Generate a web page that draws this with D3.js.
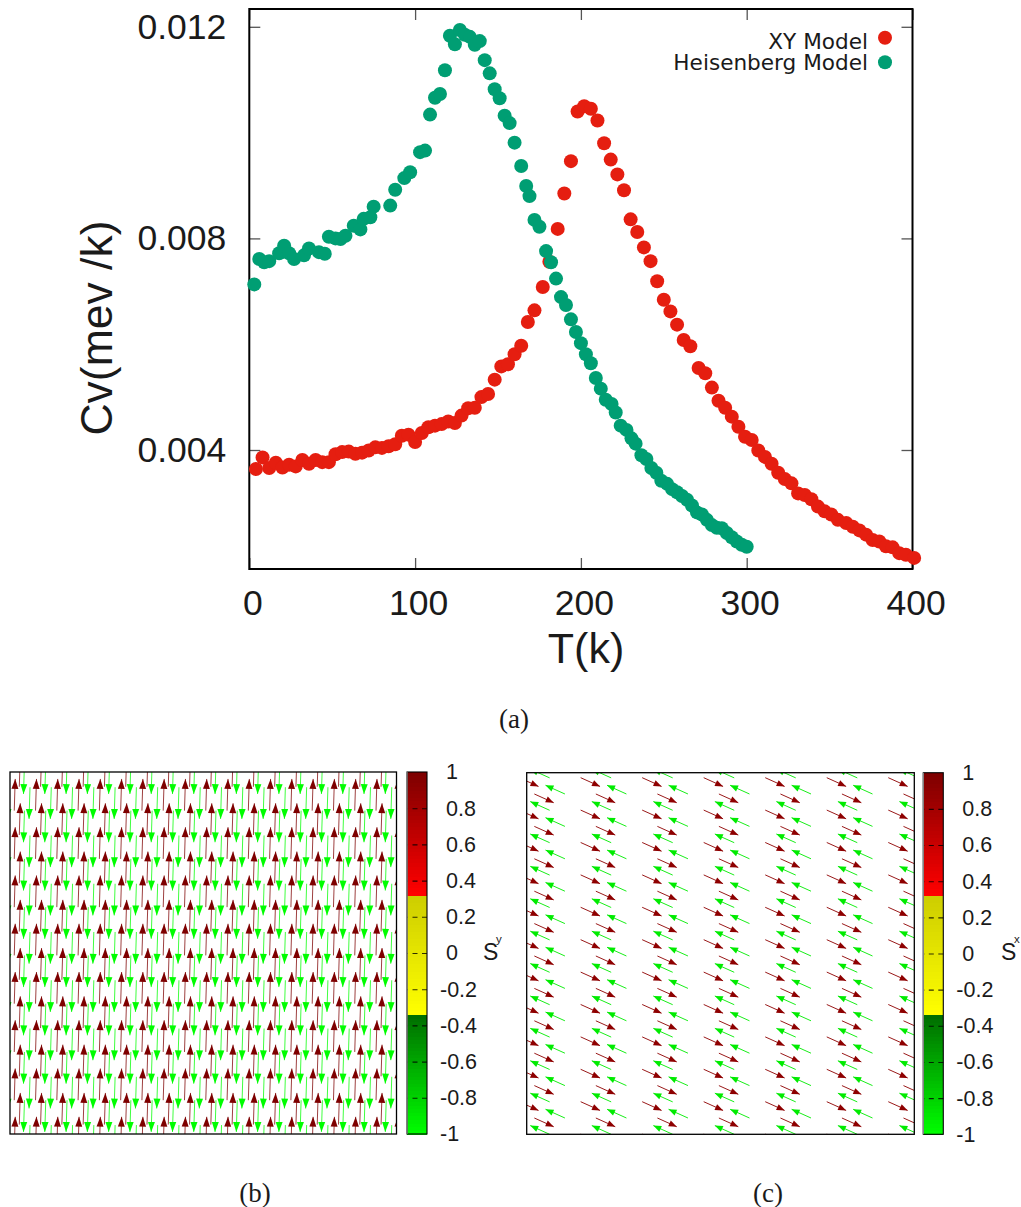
<!DOCTYPE html>
<html>
<head>
<meta charset="utf-8">
<script src="https://d3js.org/d3.v7.min.js"></script>
<style>
  body { margin: 0; background: #fff; }
  svg { display: block; }
  text { font-family: "Liberation Sans", Arial, sans-serif; fill: #1a1a1a; }
</style>
</head>
<body>
<svg id="fig" width="1021" height="1207"></svg>
<script>
// specific heat curves
const xyTemp = [
  4, 8, 12, 16, 20, 24, 28, 32, 36, 40,
  44, 48, 52, 56, 60, 64, 68, 72, 76, 80,
  84, 88, 92, 96, 100, 104, 108, 112, 116, 120,
  124, 128, 132, 136, 140, 144, 148, 152, 156, 160,
  164, 168, 172, 177, 181, 186, 190, 194, 198, 202,
  206, 210, 214, 218, 222, 226, 230, 234, 238, 242,
  246, 250, 254, 258, 262, 266, 271, 275, 279, 283,
  287, 291, 295, 299, 303, 307, 311, 315, 319, 323,
  327, 331, 335, 339, 343, 347, 351, 355, 360, 364,
  368, 372, 376, 380, 384, 388, 392, 396, 401]
const xyCv = [
  .00364, .00386, .00366, .00376, .00367, .00372, .00369, .00381, .00374, .00381,
  .00377, .00377, .00392, .00396, .00397, .00393, .00395, .00399, .00405, .00404,
  .00407, .00411, .00427, .00429, .00415, .00432, .00443, .00446, .00449, .00454,
  .00451, .00465, .00479, .00480, .00500, .00506, .00533, .00558, .00562, .00581,
  .00597, .00642, .00664, .00708, .00756, .00818, .00885, .00946, .01040, .01050,
  .01045, .01023, .00980, .00949, .00921, .00891, .00836, .00812, .00783, .00757,
  .00719, .00684, .00662, .00637, .00608, .00596, .00555, .00545, .00518, .00493,
  .00480, .00463, .00444, .00425, .00419, .00399, .00387, .00374, .00357, .00345,
  .00337, .00318, .00315, .00307, .00293, .00284, .00278, .00268, .00262, .00255,
  .00248, .00240, .00230, .00227, .00218, .00216, .00205, .00202, .00196]

const heisTemp = [
  3, 6, 9, 12, 18, 21, 24, 27, 33, 36,
  42, 45.5, 48, 52, 55, 58, 63, 67, 69, 73,
  75, 85, 88, 93.5, 97, 103, 106, 109, 112, 115,
  118, 121, 124, 127, 130, 133, 136, 139, 142, 145,
  148, 151, 154, 157, 160, 164, 167, 169, 172, 175,
  179, 182, 185, 188, 191, 194, 197, 200, 203, 206,
  209, 212, 215, 218.5, 221, 224, 227.5, 230.5, 233, 236.5,
  239.5, 242.5, 245.5, 248.5, 252, 255, 258, 261, 264, 267,
  270, 273, 276, 279, 282, 285, 288, 291, 294, 297, 300]
const heisCv = [
  .00713, .00761, .00755, .00757, .00772, .00786, .00772, .00761, .00768, .00781,
  .00774, .00771, .00803, .00800, .00799, .00805, .00824, .00817, .00837, .00840,
  .00860, .00862, .00892, .00914, .00925, .00963, .00966, .01034, .01066, .01073,
  .01118, .01183, .01167, .01194, .01185, .01181, .01166, .01173, .01137, .01112,
  .01082, .01065, .01032, .01018, .00981, .00937, .00899, .00880, .00835, .00822,
  .00776, .00755, .00724, .00689, .00674, .00647, .00623, .00602, .00581, .00564,
  .00536, .00516, .00495, .00487, .00471, .00446, .00438, .00422, .00412, .00390,
  .00383, .00366, .00357, .00342, .00336, .00326, .00320, .00313, .00306, .00295,
  .00282, .00278, .00268, .00258, .00253, .00252, .00243, .00235, .00227, .00221, .00217]

const tempTicks = [0, 100, 200, 300, 400]
const cvTicks = [0.004, 0.008, 0.012]
const barTicks = [1, 0.8, 0.6, 0.4, 0.2, 0, -0.2, -0.4, -0.6, -0.8, -1]

// spin sublattices, in lattice units of each panel
const syCols = [0.8, 1.75, 2.72, 3.76]
const syRows = [1.6, 2.61, -0.4, 0.63]
const sySx = [0.03, 0.03, -0.03, -0.03]
const sySy = [0.99, 0.99, -0.99, -0.99]

const sxCols = [0.877, 0.124, 0.621, 0.373]
const sxRows = [0.154, 0.657, 0.657, 0.16]
const sxSx = [0.91, 0.91, -0.91, -0.91]
const sxSy = [-0.41, -0.41, 0.41, 0.41]

const svg = d3.select("#fig")

// colours of the discrete-zone palette
const greenPart = d3.scaleLinear().domain([-1, -0.335]).range(["#00ff00", "#006c00"])
const yellowPart = d3.scaleLinear().domain([-0.335, 0.33]).range(["#ffff00", "#cccc00"])
const redPart = d3.scaleLinear().domain([0.33, 1]).range(["#ff0000", "#7c0000"])
function spinColor(v) {
  if (v < -0.335) return greenPart(v)
  if (v < 0.33) return yellowPart(v)
  return redPart(v)
}

function renderMain() {
  const left = 249.3, right = 912.5, top = 9, bottom = 569
  const x = d3.scaleLinear().domain([0, 400]).range([left, right])
  const y = d3.scaleLinear().domain([0.004, 0.012]).range([450, 26.8])

  const g = svg.append("g")

  const axes = [
    [d3.axisBottom(x).tickValues(tempTicks).tickSize(-11).tickPadding(21), `translate(0,${bottom})`, true],
    [d3.axisTop(x).tickValues(tempTicks).tickSize(-11).tickFormat(""), `translate(0,${top})`, false],
    [d3.axisLeft(y).tickValues(cvTicks).tickSize(-11).tickPadding(23).tickFormat(d3.format(".3f")), `translate(${left},0)`, true],
    [d3.axisRight(y).tickValues(cvTicks).tickSize(-11).tickFormat(""), `translate(${right},0)`, false]
  ]
  axes.forEach(a => {
    const ag = g.append("g").attr("transform", a[1]).call(a[0])
    ag.select(".domain").remove()
    ag.selectAll("line").attr("stroke", "#555").attr("stroke-width", 1.3)
    if (a[2]) ag.selectAll("text").style("font-size", "35.5px").attr("fill", "#1a1a1a")
  })
  // x labels sit a little right of their ticks in the original
  g.selectAll("g.tick text").filter(function () { return this.getAttribute("dy") === "0.71em" }).attr("dx", 3)

  g.append("rect")
    .attr("x", left).attr("y", top)
    .attr("width", right - left).attr("height", bottom - top)
    .attr("fill", "none").attr("stroke", "#000").attr("stroke-width", 2)

  g.append("text")
    .attr("x", 586).attr("y", 663)
    .attr("text-anchor", "middle")
    .style("font-size", "43px")
    .text("T(k)")

  g.append("text")
    .attr("transform", "translate(112,328) rotate(-90)")
    .attr("text-anchor", "middle")
    .style("font-size", "44.5px")
    .text("Cv(mev /k)")

  g.selectAll(".xy")
    .data(xyTemp)
    .enter().append("circle")
    .attr("class", "xy")
    .attr("cx", d => x(d))
    .attr("cy", (d, i) => y(xyCv[i]))
    .attr("r", 7)
    .attr("fill", "#e51e10")

  g.selectAll(".heis")
    .data(heisTemp)
    .enter().append("circle")
    .attr("class", "heis")
    .attr("cx", d => x(d))
    .attr("cy", (d, i) => y(heisCv[i]))
    .attr("r", 7)
    .attr("fill", "#009e73")

  // legend
  const legend = [["XY Model", "#e51e10", 48.5, 37.7], ["Heisenberg Model", "#009e73", 70, 62.3]]
  legend.forEach(l => {
    g.append("text")
      .attr("x", 868).attr("y", l[2])
      .attr("text-anchor", "end")
      .style("font-family", "'DejaVu Sans'")
      .style("font-size", "21.6px")
      .text(l[0])
    g.append("circle").attr("cx", 885).attr("cy", l[3]).attr("r", 7).attr("fill", l[1])
  })
}

function renderField(p) {
  const x = d3.scaleLinear().domain([0, p.nx]).range([p.left, p.right])
  const y = d3.scaleLinear().domain([0, p.ny]).range([p.top, p.bottom])
  const len = d3.scaleLinear().domain([-1, 1]).range([-p.len, p.len])

  svg.append("defs").append("clipPath").attr("id", p.id)
    .append("rect")
    .attr("x", p.left).attr("y", p.top)
    .attr("width", p.right - p.left).attr("height", p.bottom - p.top)

  const spins = []
  d3.range(-1, Math.ceil(p.nx / p.stepX) + 1).forEach(i => {
    d3.range(-1, Math.ceil(p.ny / p.stepY) + 1).forEach(j => {
      p.cols.forEach((c, k) => {
        spins.push({ col: c + i * p.stepX, row: p.rows[k] + j * p.stepY, sx: p.sx[k], sy: p.sy[k], v: p.color[k] })
      })
    })
  })

  const g = svg.append("g").attr("clip-path", `url(#${p.id})`)
  const arrows = g.selectAll("g").data(spins).enter().append("g")

  arrows.append("line")
    .attr("x1", d => x(d.col))
    .attr("y1", d => y(d.row))
    .attr("x2", d => x(d.col) + len(d.sx))
    .attr("y2", d => y(d.row) - len(d.sy))
    .attr("stroke", d => spinColor(d.v))
    .attr("stroke-width", 1)
    .attr("stroke-opacity", p.shaft)

  arrows.append("path")
    .attr("d", d => {
      const tipX = x(d.col) + len(d.sx), tipY = y(d.row) - len(d.sy)
      const ux = len(d.sx) / p.len, uy = -len(d.sy) / p.len
      const path = d3.path()
      path.moveTo(tipX, tipY)
      path.lineTo(tipX - ux * p.headL - uy * p.headW, tipY - uy * p.headL + ux * p.headW)
      path.lineTo(tipX - ux * p.headL + uy * p.headW, tipY - uy * p.headL - ux * p.headW)
      path.closePath()
      return path.toString()
    })
    .attr("fill", d => spinColor(d.v))

  svg.append("rect")
    .attr("x", p.left).attr("y", p.top)
    .attr("width", p.right - p.left).attr("height", p.bottom - p.top)
    .attr("fill", "none").attr("stroke", "#000").attr("stroke-width", 1.3)

  // colour bar
  const bar = d3.scaleLinear().domain([-1, 1]).range([p.bottom, p.top])
  svg.selectAll(`.bar-${p.id}`)
    .data(d3.range(-1, 1, 0.02))
    .enter().append("rect")
    .attr("class", `bar-${p.id}`)
    .attr("x", p.barX)
    .attr("y", d => bar(d + 0.02))
    .attr("width", 20)
    .attr("height", d => bar(d) - bar(d + 0.02) + 0.5)
    .attr("fill", d => spinColor(d + 0.01))
    .attr("shape-rendering", "crispEdges")

  const axis = svg.append("g")
    .attr("transform", `translate(${p.barX + 20},0)`)
    .call(d3.axisRight(bar).tickValues(barTicks).tickSize(-20).tickFormat(d => String(d)))
  axis.select(".domain").remove()
  axis.selectAll("line")
    .attr("stroke", "#000").attr("stroke-width", 1.1)
    .attr("stroke-dasharray", "5 4.5")
    .attr("stroke-opacity", d => (d === 1 || d === -1) ? 0 : 0.8)
  axis.selectAll("text")
    .attr("text-anchor", "start")
    .attr("x", d => d < 0 ? 13 : 19)
    .attr("fill", "#1a1a1a")
    .style("font-size", "21.5px")

  svg.append("rect")
    .attr("x", p.barX).attr("y", p.top)
    .attr("width", 20).attr("height", p.bottom - p.top)
    .attr("fill", "none").attr("stroke", "#000").attr("stroke-width", 1.1)
  svg.append("line")
    .attr("x1", p.barX).attr("x2", p.barX)
    .attr("y1", p.top).attr("y2", p.bottom)
    .attr("stroke", "#888").attr("stroke-width", 1.3)

  svg.append("text")
    .attr("x", p.labelX).attr("y", 960)
    .style("font-size", "23px")
    .text("S")
  svg.append("text")
    .attr("x", p.labelX + 13).attr("y", 943)
    .style("font-size", "11.5px")
    .text(p.comp)
}

renderMain()

renderField({
  id: "sy", left: 10, right: 396.5, top: 772, bottom: 1134,
  nx: 72.65, ny: 15, stepX: 4, stepY: 2,
  cols: syCols, rows: syRows, sx: sySx, sy: sySy, color: sySy,
  len: 32, headL: 10, headW: 3.5, shaft: 0.75, barX: 407, labelX: 483, comp: "y"
})

renderField({
  id: "sx", left: 526.7, right: 914.3, top: 772.7, bottom: 1134.3,
  nx: 6.3, ny: 11.16, stepX: 1, stepY: 1,
  cols: sxCols, rows: sxRows, sx: sxSx, sy: sxSy, color: sxSx,
  len: 21.3, headL: 8, headW: 3.2, shaft: 0.9, barX: 923.3, labelX: 1001, comp: "x"
})

// captions
const captions = [["(a)", 514, 728], ["(b)", 255, 1202], ["(c)", 768, 1202]]
captions.forEach(c => {
  svg.append("text")
    .attr("x", c[1]).attr("y", c[2])
    .attr("text-anchor", "middle")
    .style("font-family", "'Liberation Serif', serif")
    .style("font-size", "27px")
    .text(c[0])
})
</script>
</body>
</html>
